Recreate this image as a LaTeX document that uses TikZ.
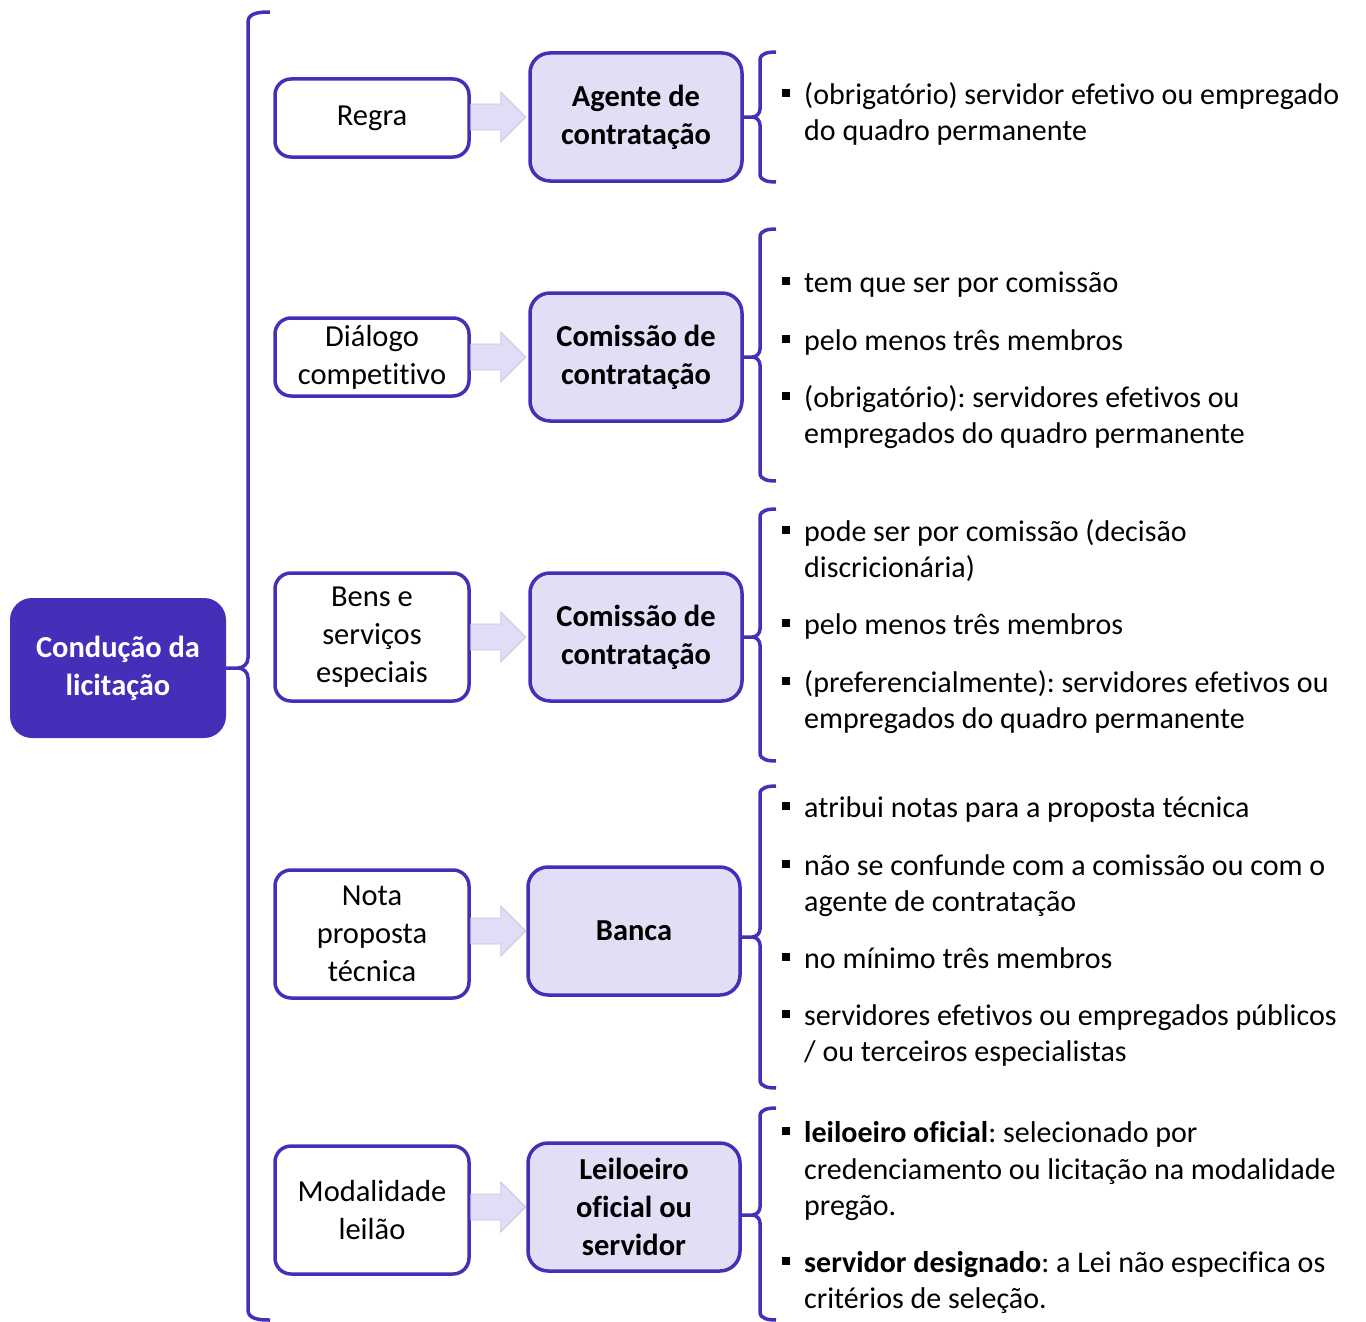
\documentclass[tikz,border=0pt]{standalone}
\usepackage{fontspec}
\setmainfont{Carlito}[Ligatures={NoCommon}]
\frenchspacing
\usepackage{tikz}
\definecolor{cdpurple}{RGB}{70,46,184}
\definecolor{cdlilac}{RGB}{225,222,245}
\definecolor{cdarrow}{RGB}{224,221,246}
\definecolor{cdgray}{RGB}{200,198,222}

\begin{document}
\begin{tikzpicture}[x=1pt, y=-1pt,
  every node/.style={font=\fontsize{30.5}{38}\selectfont},
  mainbox/.style={fill=cdpurple, rounded corners=22pt, minimum width=216pt, minimum height=140pt,
    text=white, font=\fontsize{30.5}{38}\selectfont\bfseries, align=center, inner sep=0pt},
  rulebox/.style={draw=cdpurple, line width=3.5pt, fill=white, rounded corners=16pt,
    minimum width=194pt, minimum height=128pt, align=center, inner sep=0pt},
  rolebox/.style={draw=cdpurple, line width=3.5pt, fill=cdlilac, rounded corners=20pt,
    minimum width=212pt, minimum height=128pt, align=center, inner sep=0pt,
    font=\fontsize{30.5}{38}\selectfont\bfseries},
  brk/.style={draw=cdpurple, line width=3.5pt},
  arr/.style={fill=cdarrow, draw=cdgray, line width=0.8pt},
  txt/.style={anchor=base west, inner sep=0pt, font=\fontsize{30}{36}\selectfont},
  sq/.style={fill=black, minimum size=8pt, inner sep=0pt}
]
\useasboundingbox (0,0) rectangle (1366,1322);

% root
\node[mainbox] (main) at (118,668) {Condução da\\licitação};

% left column: situations
\node[rulebox, minimum height=78pt] (r1) at (372,118) {Regra};
\node[rulebox, minimum height=78pt] (r2) at (372,357) {Diálogo\\competitivo};
\node[rulebox] (r3) at (372,637) {Bens e\\serviços\\especiais};
\node[rulebox] (r4) at (372,934) {Nota\\proposta\\técnica};
\node[rulebox] (r5) at (372,1210) {Modalidade\\leilão};

% middle column: who conducts
\node[rolebox] (m1) at (636,117) {Agente de\\contratação};
\node[rolebox] (m2) at (636,357) {Comissão de\\contratação};
\node[rolebox] (m3) at (636,637) {Comissão de\\contratação};
\node[rolebox] (m4) at (634,931) {Banca};
\node[rolebox] (m5) at (634,1207) {Leiloeiro\\oficial ou\\servidor};

% block arrows
\foreach \i in {1,...,5} {
  \draw[arr] (r\i.east |- m\i.west) ++(0,-13) -- ++(30,0) -- ++(0,-12) -- ++(25,25)
    -- ++(-25,25) -- ++(0,-12) -- ++(-30,0) -- cycle;
}

% big bracket
\draw[brk] (270,12) to[out=180,in=90] (248,22) -- (248,658) to[out=-90,in=0] (238,668) -- (main.east)
  (238,668) to[out=0,in=90] (248,678) -- (248,1310) to[out=-90,in=180] (270,1320);

% small brackets
\foreach \nd/\ytop/\ymid/\ybot in {m1/52/117/182, m2/229/357/481, m3/509/637/761,
    m4/786/937/1088, m5/1108/1215/1320} {
  \draw[brk] (776,\ytop) to[out=180,in=90] (760,\ytop+8) -- (760,\ymid-8)
    to[out=-90,in=0] (752,\ymid) -- (\nd.east |- 0,\ymid)
    (752,\ymid) to[out=0,in=90] (760,\ymid+8) -- (760,\ybot-8) to[out=-90,in=180] (776,\ybot);
}

% notes
\node[txt] (t11) at (804,104) {(obrigatório) servidor efetivo ou empregado};
\node[txt] (t12) at (804,140) {do quadro permanente};

\node[txt] (t21) at (804,292) {tem que ser por comissão};
\node[txt] (t22) at (804,350) {pelo menos três membros};
\node[txt] (t23) at (804,407) {(obrigatório): servidores efetivos ou};
\node[txt] (t24) at (804,443) {empregados do quadro permanente};

\node[txt] (t31) at (804,541) {pode ser por comissão (decisão};
\node[txt] (t32) at (804,577) {discricionária)};
\node[txt] (t33) at (804,634) {pelo menos três membros};
\node[txt] (t34) at (804,692) {(preferencialmente): servidores efetivos ou};
\node[txt] (t35) at (804,728) {empregados do quadro permanente};

\node[txt] (t41) at (804,817) {atribui notas para a proposta técnica};
\node[txt] (t42) at (804,875) {não se confunde com a comissão ou com o};
\node[txt] (t43) at (804,911) {agente de contratação};
\node[txt] (t44) at (804,968) {no mínimo três membros};
\node[txt] (t45) at (804,1025) {servidores efetivos ou empregados públicos};
\node[txt] (t46) at (804,1061) {/ ou terceiros especialistas};

\node[txt] (t51) at (804,1142) {\textbf{leiloeiro oficial}: selecionado por};
\node[txt] (t52) at (804,1179) {credenciamento ou licitação na modalidade};
\node[txt] (t53) at (804,1215) {pregão.};
\node[txt] (t54) at (804,1272) {\textbf{servidor designado}: a Lei não especifica os};
\node[txt] (t55) at (804,1308) {critérios de seleção.};

% bullets
\foreach \t in {t11,t21,t22,t23,t31,t33,t34,t41,t42,t44,t45,t51,t54}
  \node[sq] at ([xshift=-18pt,yshift=11pt]\t.base west) {};
\end{tikzpicture}
\end{document}
